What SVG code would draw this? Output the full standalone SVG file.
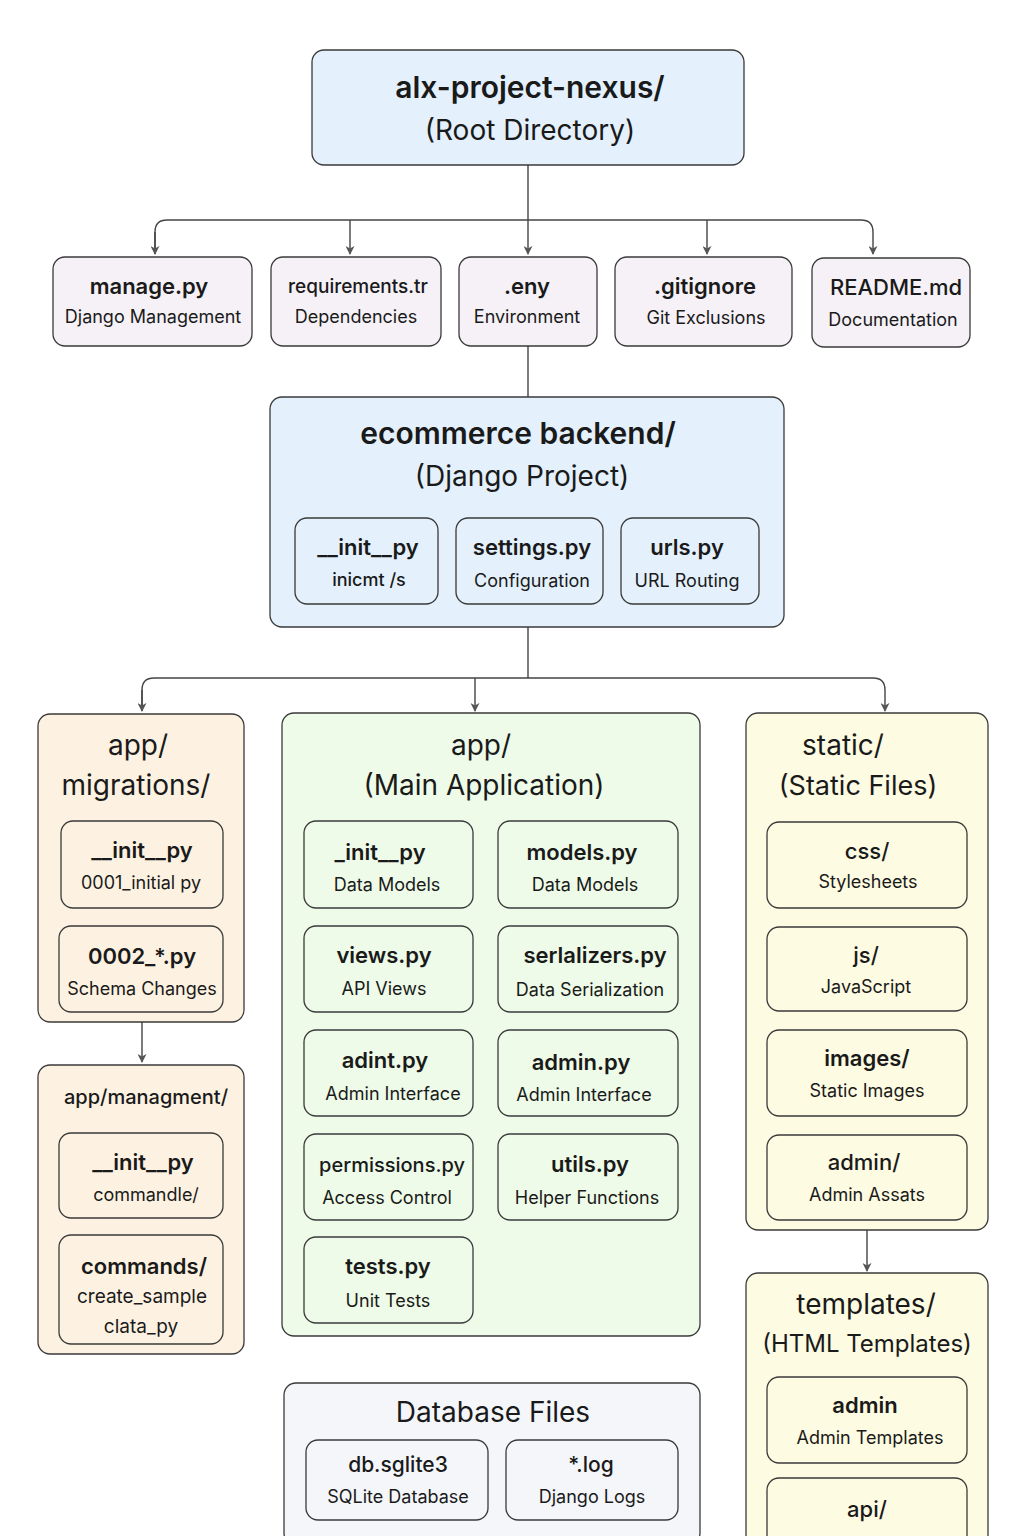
<svg xmlns="http://www.w3.org/2000/svg" width="1024" height="1536" viewBox="0 0 1024 1536">
<defs>
<marker id="arr" viewBox="0 0 10 10" refX="9" refY="5" markerWidth="9" markerHeight="9" markerUnits="userSpaceOnUse" orient="auto"><path d="M0,0 L10,5 L0,10 L3,5 Z" fill="#555"/></marker>
<style>
text{font-family:Inter,"Noto Sans","Liberation Sans",sans-serif;fill:#1a1a1a;text-anchor:middle}
.box{stroke:#3a3a3a;stroke-width:1.3}
.blue{fill:#e4f1fd}
.lav{fill:#f5f1f7}
.peach{fill:#fdf2e2}
.green{fill:#eefbe8}
.yel{fill:#fdfbe2}
.gray{fill:#f4f6fa}
.h1{font-size:30px;font-weight:600}
.h2{font-size:28px;font-weight:400}
.t{font-size:22px;font-weight:600}
.s{font-size:18px;font-weight:400}
.con{fill:none;stroke:#444;stroke-width:1.4}
</style>
</defs>
<rect width="1024" height="1536" fill="#ffffff"/>

<g id="connectors">
<path class="con" d="M528,165 V220"/>
<path class="con" d="M155,254 V232 Q155,220 167,220 H861 Q873,220 873,232 V254" marker-end="url(#arr)"/>
<path class="con" d="M155,232 V254" marker-end="url(#arr)"/>
<path class="con" d="M350,220 V254" marker-end="url(#arr)"/>
<path class="con" d="M528,220 V254" marker-end="url(#arr)"/>
<path class="con" d="M707,220 V254" marker-end="url(#arr)"/>
<path class="con" d="M528,346 V397"/>
<path class="con" d="M528,627 V678"/>
<path class="con" d="M142,711 V690 Q142,678 154,678 H873 Q885,678 885,690 V711" marker-end="url(#arr)"/>
<path class="con" d="M142,690 V711" marker-end="url(#arr)"/>
<path class="con" d="M475,678 V711" marker-end="url(#arr)"/>
<path class="con" d="M142,1022 V1062" marker-end="url(#arr)"/>
<path class="con" d="M867,1230 V1271" marker-end="url(#arr)"/>
</g>

<g id="root">
<rect class="box blue" x="312" y="50" width="432" height="115" rx="12"/>
<text class="h1" x="530" y="98">alx-project-nexus/</text>
<text class="h2" x="530" y="140">(Root Directory)</text>
</g>

<g id="manage">
<rect class="box lav" x="53" y="257" width="199" height="89" rx="12"/>
<text class="t" x="149" y="294">manage.py</text>
<text class="s" x="153" y="323">Django Management</text>
</g>
<g id="requirements">
<rect class="box lav" x="271" y="257" width="170" height="89" rx="12"/>
<text x="358" y="293" style="font-size:19px;font-weight:500">requirements.tr</text>
<text class="s" x="356" y="323">Dependencies</text>
</g>
<g id="env">
<rect class="box lav" x="459" y="257" width="138" height="89" rx="12"/>
<text class="t" x="527" y="294">.eny</text>
<text class="s" x="527" y="323">Environment</text>
</g>
<g id="gitignore">
<rect class="box lav" x="615" y="257" width="177" height="89" rx="12"/>
<text class="t" x="705" y="294">.gitignore</text>
<text class="s" x="706" y="324">Git Exclusions</text>
</g>
<g id="readme">
<rect class="box lav" x="812" y="258" width="158" height="89" rx="12"/>
<text class="t" x="896" y="295" style="font-weight:500">README.md</text>
<text class="s" x="893" y="326">Documentation</text>
</g>

<g id="ecommerce">
<rect class="box blue" x="270" y="397" width="514" height="230" rx="12"/>
<text class="h1" x="518" y="444">ecommerce backend/</text>
<text class="h2" x="522" y="486">(Django Project)</text>
<rect class="box blue" x="295" y="518" width="143" height="86" rx="12"/>
<text class="t" x="368" y="555">__init__py</text>
<text class="s" x="369" y="586" style="font-weight:500">inicmt /s</text>
<rect class="box blue" x="456" y="518" width="147" height="86" rx="12"/>
<text class="t" x="532" y="555">settings.py</text>
<text class="s" x="532" y="587">Configuration</text>
<rect class="box blue" x="621" y="518" width="138" height="86" rx="12"/>
<text class="t" x="687" y="555">urls.py</text>
<text class="s" x="687" y="587">URL Routing</text>
</g>

<g id="migrations">
<rect class="box peach" x="38" y="714" width="206" height="308" rx="12"/>
<text class="h2" x="138" y="755">app/</text>
<text class="h2" x="136" y="795">migrations/</text>
<rect class="box peach" x="61" y="821" width="162" height="87" rx="12"/>
<text class="t" x="142" y="858">__init__py</text>
<text class="s" x="141" y="889">0001_initial py</text>
<rect class="box peach" x="59" y="926" width="164" height="86" rx="12"/>
<text class="t" x="142" y="964">0002_*.py</text>
<text class="s" x="142" y="995">Schema Changes</text>
</g>

<g id="management">
<rect class="box peach" x="38" y="1065" width="206" height="289" rx="12"/>
<text x="146" y="1104" style="font-size:20px;font-weight:500">app/managment/</text>
<rect class="box peach" x="59" y="1133" width="164" height="85" rx="12"/>
<text class="t" x="143" y="1170">__init__py</text>
<text class="s" x="146" y="1201">commandle/</text>
<rect class="box peach" x="59" y="1235" width="164" height="109" rx="12"/>
<text class="t" x="144" y="1274">commands/</text>
<text x="142" y="1303" style="font-size:19px">create_sample</text>
<text x="141" y="1333" style="font-size:19px">clata_py</text>
</g>

<g id="app">
<rect class="box green" x="282" y="713" width="418" height="623" rx="12"/>
<text class="h2" x="481" y="755">app/</text>
<text class="h2" x="484" y="795">(Main Application)</text>
<rect class="box green" x="304" y="821" width="169" height="87" rx="12"/>
<text class="t" x="380" y="860">_init__py</text>
<text class="s" x="387" y="891">Data Models</text>
<rect class="box green" x="498" y="821" width="180" height="87" rx="12"/>
<text class="t" x="582" y="860">models.py</text>
<text class="s" x="585" y="891">Data Models</text>
<rect class="box green" x="304" y="926" width="169" height="86" rx="12"/>
<text class="t" x="384" y="963">views.py</text>
<text class="s" x="384" y="995">API Views</text>
<rect class="box green" x="498" y="926" width="180" height="86" rx="12"/>
<text class="t" x="595" y="963">serlalizers.py</text>
<text class="s" x="590" y="996">Data Serialization</text>
<rect class="box green" x="304" y="1030" width="169" height="86" rx="12"/>
<text class="t" x="385" y="1068">adint.py</text>
<text class="s" x="393" y="1100">Admin Interface</text>
<rect class="box green" x="498" y="1030" width="180" height="86" rx="12"/>
<text class="t" x="581" y="1070">admin.py</text>
<text class="s" x="584" y="1101">Admin Interface</text>
<rect class="box green" x="304" y="1134" width="169" height="86" rx="12"/>
<text x="392" y="1172" style="font-size:20px;font-weight:500">permissions.py</text>
<text class="s" x="387" y="1204">Access Control</text>
<rect class="box green" x="498" y="1134" width="180" height="86" rx="12"/>
<text class="t" x="590" y="1172">utils.py</text>
<text class="s" x="587" y="1204">Helper Functions</text>
<rect class="box green" x="304" y="1237" width="169" height="86" rx="12"/>
<text class="t" x="388" y="1274">tests.py</text>
<text class="s" x="388" y="1307">Unit Tests</text>
</g>

<g id="static">
<rect class="box yel" x="746" y="713" width="242" height="517" rx="12"/>
<text class="h2" x="843" y="755">static/</text>
<text x="858" y="795" style="font-size:27px">(Static Files)</text>
<rect class="box yel" x="767" y="822" width="200" height="86" rx="12"/>
<text class="t" x="867" y="859" style="font-weight:500">css/</text>
<text class="s" x="868" y="888">Stylesheets</text>
<rect class="box yel" x="767" y="927" width="200" height="84" rx="12"/>
<text class="t" x="866" y="963" style="font-weight:500">js/</text>
<text class="s" x="866" y="993">JavaScript</text>
<rect class="box yel" x="767" y="1030" width="200" height="86" rx="12"/>
<text class="t" x="867" y="1066">images/</text>
<text class="s" x="867" y="1097">Static Images</text>
<rect class="box yel" x="767" y="1135" width="200" height="85" rx="12"/>
<text class="t" x="864" y="1170" style="font-weight:500">admin/</text>
<text class="s" x="867" y="1201">Admin Assats</text>
</g>

<g id="templates">
<rect class="box yel" x="746" y="1273" width="242" height="280" rx="12"/>
<text class="h2" x="866" y="1314">templates/</text>
<text x="867" y="1352" style="font-size:24px">(HTML Templates)</text>
<rect class="box yel" x="767" y="1377" width="200" height="86" rx="12"/>
<text class="t" x="865" y="1413">admin</text>
<text class="s" x="870" y="1444">Admin Templates</text>
<rect class="box yel" x="767" y="1478" width="200" height="80" rx="12"/>
<text class="t" x="867" y="1517" style="font-weight:500">api/</text>
</g>

<g id="database">
<rect class="box gray" x="284" y="1383" width="416" height="162" rx="12"/>
<text class="h2" x="493" y="1422">Database Files</text>
<rect class="box gray" x="306" y="1440" width="182" height="80" rx="12"/>
<text x="398" y="1472" style="font-size:21px;font-weight:500">db.sglite3</text>
<text class="s" x="398" y="1503">SQLite Database</text>
<rect class="box gray" x="506" y="1440" width="172" height="80" rx="12"/>
<text x="591" y="1472" style="font-size:21px;font-weight:500">*.log</text>
<text class="s" x="592" y="1503">Django Logs</text>
</g>
</svg>
